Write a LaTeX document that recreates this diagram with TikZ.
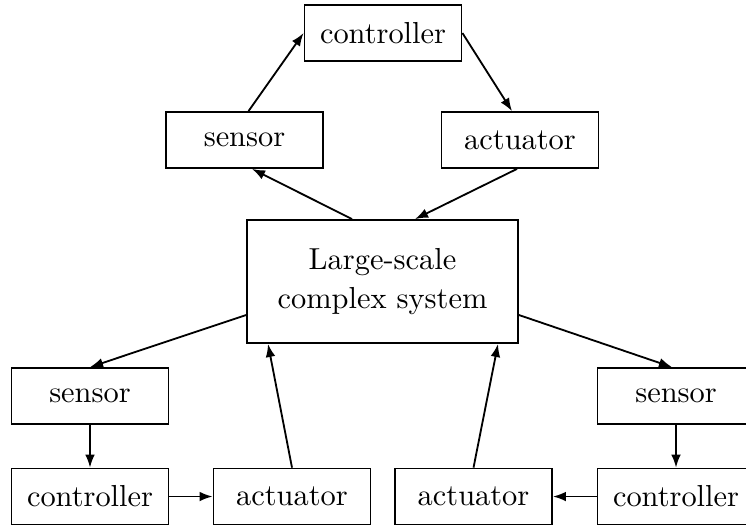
\documentclass[tikz,border=0pt]{standalone}
\usetikzlibrary{arrows.meta,calc}
\begin{document}
\begin{tikzpicture}[x=0.329pt,y=-0.329pt,
  box/.style={draw,line width=0.6pt,minimum width=51.65pt,minimum height=18.4pt,inner sep=0pt},
  bigbox/.style={draw,line width=0.6pt,minimum width=89.16pt,minimum height=40.47pt,inner sep=0pt,align=center,font=\fontsize{10}{13}\selectfont},
  conn/.style={line width=0.6pt,-{Latex[length=4.3pt,width=3.2pt]}}]
\useasboundingbox (0,0) rectangle (746,525);
\clip (0,0) rectangle (746,525);
\node[box] (ctop) at (383,33) {controller};
\node[box] (stop) at (244.5,140) {sensor};
\node[box] (atop) at (520,140) {actuator};
\node[bigbox] (sys) at (382.5,281.5) {Large-scale\\complex system};
\node[box] (sL) at (90,396) {sensor};
\node[box] (cL) at (90,496.5) {controller};
\node[box] (aL) at (292,496.5) {actuator};
\node[box] (aR) at (473.5,496.5) {actuator};
\node[box] (cR) at (676,496.5) {controller};
\node[box] (sR) at (676,396) {sensor};
\draw[conn] ($(stop.north)+(4,0)$) -- (ctop.west);
\draw[conn] (ctop.east) -- ($(atop.north)+(-8,0)$);
\draw[conn] ($(sys.north)+(-30.5,0)$) -- ($(stop.south)+(7.5,0)$);
\draw[conn] ($(atop.south)+(-3,0)$) -- ($(sys.north)+(32.5,0)$);
\draw[conn] ($(sys.west)+(0,33.5)$) -- (sL.north);
\draw[conn] ($(sys.east)+(0,33.5)$) -- ($(sR.north)+(-4,0)$);
\draw[conn] (sL.south) -- (cL.north);
\draw[conn] (cL.east) -- (aL.west);
\draw[conn] (aL.north) -- ($(sys.south)+(-114.5,0)$);
\draw[conn] (aR.north) -- ($(sys.south)+(115.5,0)$);
\draw[conn] (sR.south) -- (cR.north);
\draw[conn] (cR.west) -- (aR.east);
\end{tikzpicture}
\end{document}
